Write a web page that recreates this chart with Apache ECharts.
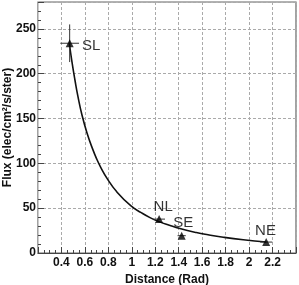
<!DOCTYPE html>
<html>
<head>
<meta charset="utf-8">
<script src="https://cdn.jsdelivr.net/npm/echarts@6/dist/echarts.min.js"></script>
<style>html,body{margin:0;padding:0;background:#fff;}#c{width:299px;height:285px;}</style>
</head>
<body>
<div id="c"></div>
<script>
// Measured points
var pointNames = ['SL', 'NL', 'SE', 'NE'];
var pointX = [0.47, 1.233, 1.425, 2.146];
var pointY = [234, 37.8, 19.3, 12.2];
var pointXErr = [0.08, 0.05, 0.035, 0.052];
var pointYErr = [21, 0, 0, 0];

// Fitted curve
var curveX = [0.467, 0.49, 0.515, 0.54, 0.575, 0.62, 0.663, 0.7, 0.737, 0.79, 0.87, 0.993, 1.08, 1.155, 1.233, 1.32, 1.41, 1.55, 1.65, 1.78, 1.95, 2.146];
var curveY = [234, 213, 193, 175, 154, 133, 117, 105, 95, 83, 68.5, 52.5, 45, 39.5, 35, 31, 27.3, 22.8, 20.3, 17.6, 14.8, 12.3];

// Tick settings
var xMin = 0.2, xMax = 2.4, xStep = 0.2;
var yMin = 0, yMax = 280, yStep = 50;

var labelOffsets = [[21.5, 2.5], [4, -12.6], [1.6, -12.6], [-0.7, -11.3]];

var curveData = curveX.map(function (x, i) { return [x, curveY[i]]; });
var pointData = pointX.map(function (x, i) {
  return {
    name: pointNames[i],
    value: [x, pointY[i]],
    label: { offset: labelOffsets[i] }
  };
});
var errData = pointX.map(function (x, i) { return [x, pointY[i], pointXErr[i], pointYErr[i]]; });

var chart = echarts.init(document.getElementById('c'), null, { renderer: 'canvas' });
var fontFam = '"Liberation Sans", Arial, Helvetica, sans-serif';
chart.setOption({
  animation: false,
  backgroundColor: '#fff',
  grid: { left: 38, right: 3, top: 2, bottom: 32, containLabel: false, outerBoundsMode: 'none',
    show: true, borderColor: '#666', borderWidth: 1.2, backgroundColor: 'transparent' },
  xAxis: {
    type: 'value', min: xMin, max: xMax, interval: xStep,
    name: 'Distance (Rad)', nameLocation: 'middle', nameGap: 21, nameMoveOverlap: false,
    nameTextStyle: { fontFamily: fontFam, fontWeight: 'bold', fontSize: 12, color: '#111' },
    axisLine: { show: true, lineStyle: { color: '#444', width: 1 } },
    axisTick: { show: true, inside: true, length: 6, lineStyle: { color: '#444' } },
    minorTick: { show: true, splitNumber: 4, length: 3, lineStyle: { color: '#444' } },
    axisLabel: { showMinLabel: false, showMaxLabel: false, margin: 4, fontFamily: fontFam, fontWeight: 'bold', fontSize: 12, color: '#111',
      formatter: function (v) { return String(Math.round(v * 10) / 10); } },
    splitLine: { show: true, lineStyle: { color: '#aaa', type: [3, 2], width: 1 } }
  },
  yAxis: {
    type: 'value', min: yMin, max: yMax, interval: yStep,
    name: 'Flux (elec/cm²/s/ster)', nameLocation: 'middle', nameGap: 24, nameRotate: 90, nameMoveOverlap: false,
    nameTextStyle: { fontFamily: fontFam, fontWeight: 'bold', fontSize: 12, color: '#111' },
    axisLine: { show: true, lineStyle: { color: '#ccc', width: 1 } },
    axisTick: { show: true, inside: true, length: 6, lineStyle: { color: '#444' } },
    minorTick: { show: true, splitNumber: 5, length: 3, lineStyle: { color: '#444' } },
    axisLabel: { showMaxLabel: false, margin: 2, fontFamily: fontFam, fontWeight: 'bold', fontSize: 12, color: '#111' },
    splitLine: { show: true, lineStyle: { color: '#aaa', type: [3, 2], width: 1 } }
  },
  series: [
    {
      type: 'line', data: curveData, smooth: true, symbol: 'none',
      lineStyle: { color: '#111', width: 1.6 }, z: 3
    },
    {
      type: 'custom', data: errData, z: 4,
      renderItem: function (params, api) {
        var x = api.value(0), y = api.value(1), ex = api.value(2), ey = api.value(3);
        var l = api.coord([x - ex, y]), r = api.coord([x + ex, y]);
        var children = [{ type: 'line', shape: { x1: l[0], y1: l[1], x2: r[0], y2: r[1] }, style: { stroke: '#333', lineWidth: 1 } }];
        if (ey > 0) {
          var t = api.coord([x, y + ey]), b = api.coord([x, y - ey]);
          children.push({ type: 'line', shape: { x1: t[0], y1: t[1], x2: b[0], y2: b[1] }, style: { stroke: '#333', lineWidth: 1 } });
        }
        return { type: 'group', children: children };
      }
    },
    {
      type: 'scatter', data: pointData, symbol: 'triangle', symbolSize: 8, z: 5,
      itemStyle: { color: '#000' },
      label: { show: true, position: 'inside', formatter: '{b}', fontFamily: fontFam, fontSize: 15, color: '#000' }
    }
  ]
});
</script>
</body>
</html>
